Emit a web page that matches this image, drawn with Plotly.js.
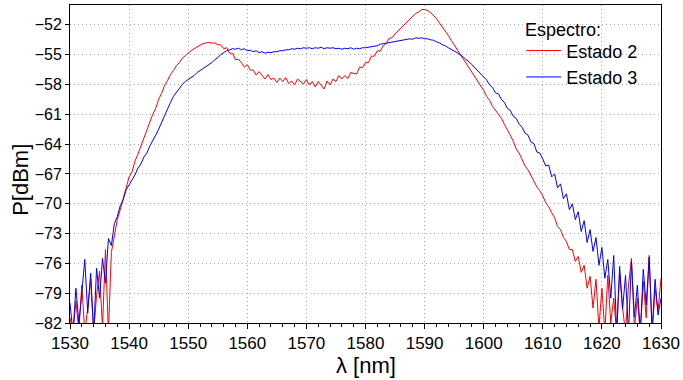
<!DOCTYPE html>
<html>
<head>
<meta charset="utf-8">
<script src="https://cdn.plot.ly/plotly-3.0.1.min.js"></script>
<style>html,body{margin:0;padding:0;background:#fff;}#chart{width:683px;height:380px;}</style>
</head>
<body>
<div id="chart"></div>
<script>
// Sample grid: 1530 nm to 1630 nm, 0.5 nm steps (201 samples)
const lambdaStart = 1530;
const lambdaStep = 0.5;

// Estado 2 (red), dBm, one row per 5 nm
const estado2 = [
  -81.5, -83, -79.8, -82.8, -78.2, -83, -80.5, -77.6, -83, -79.2,        // 1530
  -76.8, -82.5, -74.6, -83, -74.9, -73.4, -71.6, -70.6, -69.4, -68.5,    // 1535
  -67.3, -66.8, -65.7, -65.0, -64.2, -63.5, -62.5, -61.9, -61.0, -60.4,  // 1540
  -59.5, -58.9, -58.1, -57.6, -57.0, -56.6, -56.1, -55.8, -55.35, -55.1, // 1545
  -54.8, -54.6, -54.4, -54.2, -54.05, -53.9, -53.85, -53.75, -53.85, -53.8, // 1550
  -54.0, -54.0, -54.4, -54.3, -54.85, -54.85, -55.5, -55.45, -55.8, -56.25, // 1555
  -56.0, -56.55, -56.55, -57.05, -56.7, -57.05, -57.45, -57.0, -57.5, -57.35, // 1560
  -57.8, -57.35, -57.7, -57.3, -57.9, -57.65, -58.05, -57.45, -57.7, -57.95, // 1565
  -57.5, -58.05, -57.7, -58.25, -57.7, -58.05, -58.45, -57.65, -58.05, -57.45, // 1570
  -57.7, -57.1, -57.45, -57.1, -57.4, -56.8, -56.9, -56.95, -56.25, -56.3, // 1575
  -55.8, -55.8, -55.15, -55.15, -54.6, -54.65, -54.1, -53.9, -53.35, -53.3, // 1580
  -52.9, -52.6, -52.3, -52.0, -51.75, -51.4, -51.15, -50.85, -50.7, -50.45, // 1585
  -50.45, -50.55, -50.75, -51.05, -51.35, -51.8, -52.2, -52.7, -53.05, -53.55, // 1590
  -54.0, -54.45, -54.95, -55.4, -55.85, -56.3, -56.75, -57.25, -57.7, -58.15, // 1595
  -58.6, -59.2, -59.6, -60.2, -60.6, -61.05, -61.4, -62.0, -62.5, -63.1,  // 1600
  -63.7, -64.5, -64.9, -65.6, -66.2, -66.6, -67.2, -67.7, -68.3, -68.7,  // 1605
  -69.2, -69.9, -70.3, -70.9, -71.4, -72.3, -72.6, -73.4, -73.8, -74.6,  // 1610
  -74.6, -75.8, -75.3, -76.9, -76.2, -78.5, -77.3, -80.5, -77.6, -82.5,  // 1615
  -78.5, -83, -77.2, -82, -79.5, -83, -77, -80.5, -83, -78.2,            // 1620
  -75.5, -82.5, -79.5, -83, -77.8, -81.5, -75.2, -83, -78.6, -80.8,      // 1625
  -77.5                                                                  // 1630
];

// Estado 3 (blue), dBm, one row per 5 nm
const estado3 = [
  -80, -83, -78.5, -82, -79, -75.6, -81, -77, -83, -76.5,                // 1530
  -79.5, -75.5, -78, -73.5, -74.2, -72.0, -71.3, -70.2, -69.6, -68.6,    // 1535
  -68.1, -67.6, -67.1, -66.4, -66.0, -65.3, -64.9, -64.2, -63.7, -63.1,  // 1540
  -62.5, -61.8, -61.1, -60.4, -59.8, -59.2, -58.8, -58.3, -58.0, -57.7,  // 1545
  -57.5, -57.3, -57.1, -56.8, -56.6, -56.4, -56.2, -56.0, -55.8, -55.5,  // 1550
  -55.3, -55.0, -54.8, -54.6, -54.5, -54.4, -54.45, -54.35, -54.5, -54.4, // 1555
  -54.6, -54.55, -54.7, -54.6, -54.8, -54.7, -54.85, -54.75, -54.8, -54.7, // 1560
  -54.7, -54.6, -54.6, -54.5, -54.5, -54.4, -54.45, -54.35, -54.4, -54.3, // 1565
  -54.35, -54.3, -54.4, -54.3, -54.35, -54.25, -54.4, -54.3, -54.35, -54.3, // 1570
  -54.4, -54.35, -54.45, -54.35, -54.4, -54.3, -54.45, -54.35, -54.4, -54.3, // 1575
  -54.3, -54.25, -54.2, -54.1, -54.1, -53.95, -53.9, -53.8, -53.8, -53.7, // 1580
  -53.7, -53.6, -53.6, -53.5, -53.5, -53.4, -53.45, -53.3, -53.35, -53.3, // 1585
  -53.4, -53.4, -53.5, -53.55, -53.7, -53.8, -54.0, -54.1, -54.3, -54.45, // 1590
  -54.6, -54.8, -55.0, -55.2, -55.5, -55.7, -56.0, -56.3, -56.6, -56.9,  // 1595
  -57.3, -57.55, -58.05, -58.3, -58.85, -58.95, -59.5, -59.8, -60.4, -60.6, // 1600
  -61.2, -61.4, -62.0, -62.3, -62.9, -63.1, -63.8, -63.95, -64.8, -64.9, // 1605
  -65.5, -66.2, -66.1, -67.3, -67.0, -68.4, -68.0, -69.5, -69.0, -70.6,  // 1610
  -70.0, -71.6, -70.8, -72.8, -71.7, -73.9, -72.6, -74.8, -73.4, -76.2,  // 1615
  -74.4, -77.5, -75.6, -79.5, -75.2, -83, -76.3, -80.6, -77.2, -83,      // 1620
  -75.8, -81.4, -78.2, -83, -76.6, -80.2, -75.4, -82.8, -77.6, -81.2,    // 1625
  -79.5                                                                  // 1630
];

const seriesNames = ["Estado 2", "Estado 3"];
const legendTitle = "Espectro:";
const xTitle = "λ [nm]";
const yTitle = "P[dBm]";
const xTickVals = [1530, 1540, 1550, 1560, 1570, 1580, 1590, 1600, 1610, 1620, 1630];
const yTickVals = [-82, -79, -76, -73, -70, -67, -64, -61, -58, -55, -52];

const lambda = estado2.map((_, i) => lambdaStart + i * lambdaStep);

const font = "Arial, 'Liberation Sans', sans-serif";

const traces = [
  {x: lambda, y: estado2, name: seriesNames[0], type: "scatter", mode: "lines",
   line: {color: "rgb(255,0,0)", width: 1}},
  {x: lambda, y: estado3, name: seriesNames[1], type: "scatter", mode: "lines",
   line: {color: "rgb(0,0,255)", width: 1}}
];

const layout = {
  width: 683, height: 380,
  margin: {l: 70, r: 22, t: 5, b: 57},
  paper_bgcolor: "#fff", plot_bgcolor: "#fff",
  font: {family: font, size: 16, color: "#000"},
  showlegend: true,
  legend: {
    x: 0.7635, y: 0.914, xanchor: "left", yanchor: "top",
    bgcolor: "rgba(0,0,0,0)", borderwidth: 0, itemwidth: 35,
    font: {size: 18}, tracegroupgap: 0
  },
  shapes: [
    {type: "rect", xref: "paper", yref: "paper", x0: 0.746, x1: 0.983, y0: 0.72, y1: 0.972,
     fillcolor: "#fff", line: {width: 0}, layer: "between"}
  ],
  annotations: [
    {text: legendTitle, xref: "paper", yref: "paper", x: 0.7665, y: 0.921,
     xanchor: "left", yanchor: "middle", showarrow: false, font: {size: 18}},
    {text: yTitle, xref: "paper", yref: "paper", x: -0.083, y: 0.45,
     xanchor: "center", yanchor: "middle", textangle: -90, showarrow: false, font: {size: 22}},
    {text: xTitle, xref: "paper", yref: "paper", x: 0.5, y: -0.135,
     xanchor: "center", yanchor: "middle", showarrow: false, font: {size: 22}}
  ],
  xaxis: {
    range: [1530, 1630], tickmode: "array", tickvals: xTickVals,
    ticks: "outside", ticklen: 5, tickcolor: "#000",
    minor: {dtick: 2, ticks: "outside", ticklen: 3, tickcolor: "#000", showgrid: false},
    showline: true, linecolor: "#000", linewidth: 1, mirror: true,
    showgrid: true, gridcolor: "#aaaaaa", griddash: "1px,3px", gridwidth: 1,
    zeroline: false,
    tickfont: {size: 17}
  },
  yaxis: {
    range: [-82, -50], tickmode: "array", tickvals: yTickVals,
    ticks: "outside", ticklen: 4, tickcolor: "#000",
    showline: true, linecolor: "#000", linewidth: 1, mirror: true,
    showgrid: true, gridcolor: "#aaaaaa", griddash: "1px,3px", gridwidth: 1,
    zeroline: false,
    tickfont: {size: 16}
  }
};

Plotly.newPlot("chart", traces, layout, {displayModeBar: false, staticPlot: true});
</script>
</body>
</html>
